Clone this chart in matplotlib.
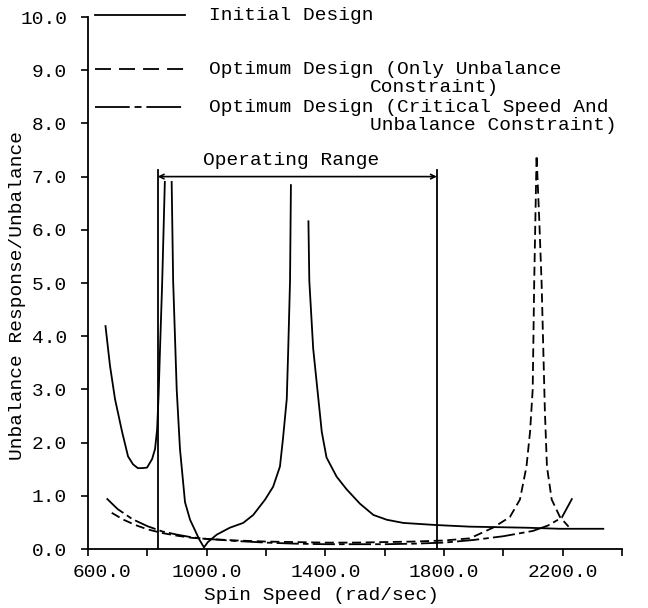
import matplotlib
matplotlib.use("Agg")
import matplotlib.pyplot as plt
from matplotlib.lines import Line2D

plt.rcParams['font.family'] = ['Liberation Mono', 'DejaVu Sans Mono']
plt.rcParams['lines.scale_dashes'] = False

# ---------------- data ----------------
# Initial design (three visible pieces; peaks are truncated in the original)
init_x1 = [659, 674, 691, 715, 735, 752, 768, 782, 799, 816, 826, 833, 838, 843, 850, 859]
init_y1 = [4.19, 3.45, 2.82, 2.20, 1.74, 1.59, 1.52, 1.52, 1.53, 1.69, 1.88, 2.25, 2.9, 3.8, 5.0, 6.9]
init_x2 = [882, 887, 899, 910, 927, 944, 960, 975, 991, 1004, 1034, 1078, 1123, 1157, 1197,
           1224, 1247, 1257, 1270, 1275, 1281, 1284]
init_y2 = [6.9, 5.04, 3.0, 1.88, 0.88, 0.55, 0.36, 0.18, 0.03, 0.13, 0.27, 0.40, 0.49, 0.64, 0.93,
           1.17, 1.55, 2.06, 2.82, 3.77, 5.04, 6.84]
init_x3 = [1343, 1346, 1359, 1376, 1388, 1404, 1438, 1472, 1517, 1562, 1607, 1663, 1775, 1887,
           2079, 2191, 2337]
init_y3 = [6.16, 5.04, 3.77, 2.85, 2.20, 1.72, 1.36, 1.12, 0.85, 0.64, 0.55, 0.49, 0.45, 0.42,
           0.40, 0.38, 0.38]

# Optimum design (only unbalance constraint)
unb_x = [680, 720, 760, 800, 850, 900, 950, 1000, 1100, 1200, 1300, 1400, 1500, 1600, 1700, 1800,
         1887, 1965, 2022, 2056, 2078, 2090, 2099, 2104, 2112, 2121, 2129, 2140, 2147, 2163, 2191, 2220]
unb_y = [0.68, 0.55, 0.45, 0.37, 0.30, 0.25, 0.21, 0.19, 0.16, 0.14, 0.13, 0.12, 0.12, 0.13, 0.14, 0.16,
         0.20, 0.40, 0.60, 0.93, 1.55, 2.2, 3.0, 5.0, 7.4, 6.2, 5.0, 2.6, 1.55, 0.93, 0.60, 0.42]

# Optimum design (critical speed and unbalance constraint)
crit_x = [663, 700, 750, 800, 850, 900, 950, 1000, 1100, 1200, 1300, 1400, 1500, 1600, 1700, 1800,
          1900, 2000, 2100, 2150, 2197, 2236]
crit_y = [0.95, 0.75, 0.56, 0.43, 0.33, 0.27, 0.22, 0.19, 0.15, 0.12, 0.10, 0.09, 0.09, 0.09, 0.10, 0.12,
          0.17, 0.24, 0.34, 0.44, 0.59, 0.99]

operating_range = [835, 1776]
operating_top = 7.12
operating_arrow_y = 7.0

x_major = [600, 1000, 1400, 1800, 2200]
x_minor = [800, 1200, 1600, 2000, 2400]
y_ticks = [0, 1, 2, 3, 4, 5, 6, 7, 8, 9, 10]

legend_labels = ["Initial Design",
                 "Optimum Design (Only Unbalance",
                 "Optimum Design (Critical Speed And"]
legend_cont = [None, "Constraint)", "Unbalance Constraint)"]

# ---------------- figure ----------------
W, H = 648, 608
fig = plt.figure(figsize=(W / 100, H / 100), dpi=100)
ax = fig.add_axes([88 / W, 1 - 549 / H, (622 - 88) / W, (549 - 17) / H])

lw = 1.3
dash_style = (0, (6.5, 3.3))
dashdot_style = (0, (16, 3, 4, 3))

ax.plot(init_x1, init_y1, color='black', lw=lw)
ax.plot(init_x2, init_y2, color='black', lw=lw)
ax.plot(init_x3, init_y3, color='black', lw=lw)
ax.plot(unb_x, unb_y, color='black', lw=lw, linestyle=dash_style)
ax.plot(crit_x, crit_y, color='black', lw=lw, linestyle=dashdot_style)

for xv in operating_range:
    ax.plot([xv, xv], [0, operating_top], color='black', lw=lw)
ax.annotate('', xy=(operating_range[0], operating_arrow_y),
            xytext=(operating_range[1], operating_arrow_y),
            arrowprops=dict(arrowstyle='<->', lw=1.2, color='black',
                            shrinkA=0, shrinkB=0, mutation_scale=8))
ax.text(sum(operating_range) / 2 - 20, 7.31, "Operating Range", ha='center', va='center',
        fontsize=14)

ax.set_xlim(600, 2400)
ax.set_ylim(0, 10)
for s in ['top', 'right']:
    ax.spines[s].set_visible(False)
for s in ['left', 'bottom']:
    ax.spines[s].set_linewidth(1.3)

ax.set_xticks(x_major)
ax.set_xticklabels([f"{v:.1f}" for v in x_major])
ax.set_xticks(x_minor, minor=True)
ax.set_yticks(y_ticks)
ax.set_yticklabels([f"{v:.1f}" for v in y_ticks])
ax.tick_params(axis='both', which='both', direction='out', length=5, width=1.2, labelsize=14)
ax.tick_params(axis='x', pad=6)
ax.tick_params(axis='y', pad=10)

# shift the first x label right as in the original
import matplotlib.transforms as mtransforms
lab0 = ax.get_xticklabels()[0]
lab0.set_transform(lab0.get_transform() + mtransforms.ScaledTranslation(14 / 100, 0, fig.dpi_scale_trans))

fig.text(18 / W, 1 - 295 / H, "Unbalance Response/Unbalance", rotation=90,
         ha='center', va='center', fontsize=14)
fig.text(322 / W, 1 - 595 / H, "Spin Speed (rad/sec)", ha='center', va='center', fontsize=14)

# legend (drawn in figure pixel coordinates)
leg_y = [15, 69, 107]
leg_cont_y = [None, 87, 126]
leg_styles = ['-', (0, (11.5, 5.8)), (0, (25, 3.5, 5, 3.5))]
for i in range(3):
    yy = 1 - leg_y[i] / H
    fig.add_artist(Line2D([95 / W, 185 / W], [yy, yy], color='black', lw=lw,
                          linestyle=leg_styles[i], transform=fig.transFigure))
    fig.text(209 / W, yy, legend_labels[i], ha='left', va='center', fontsize=14)
    if legend_cont[i]:
        fig.text(370 / W, 1 - leg_cont_y[i] / H, legend_cont[i], ha='left', va='center', fontsize=14)

fig.savefig("out.png", dpi=100)
